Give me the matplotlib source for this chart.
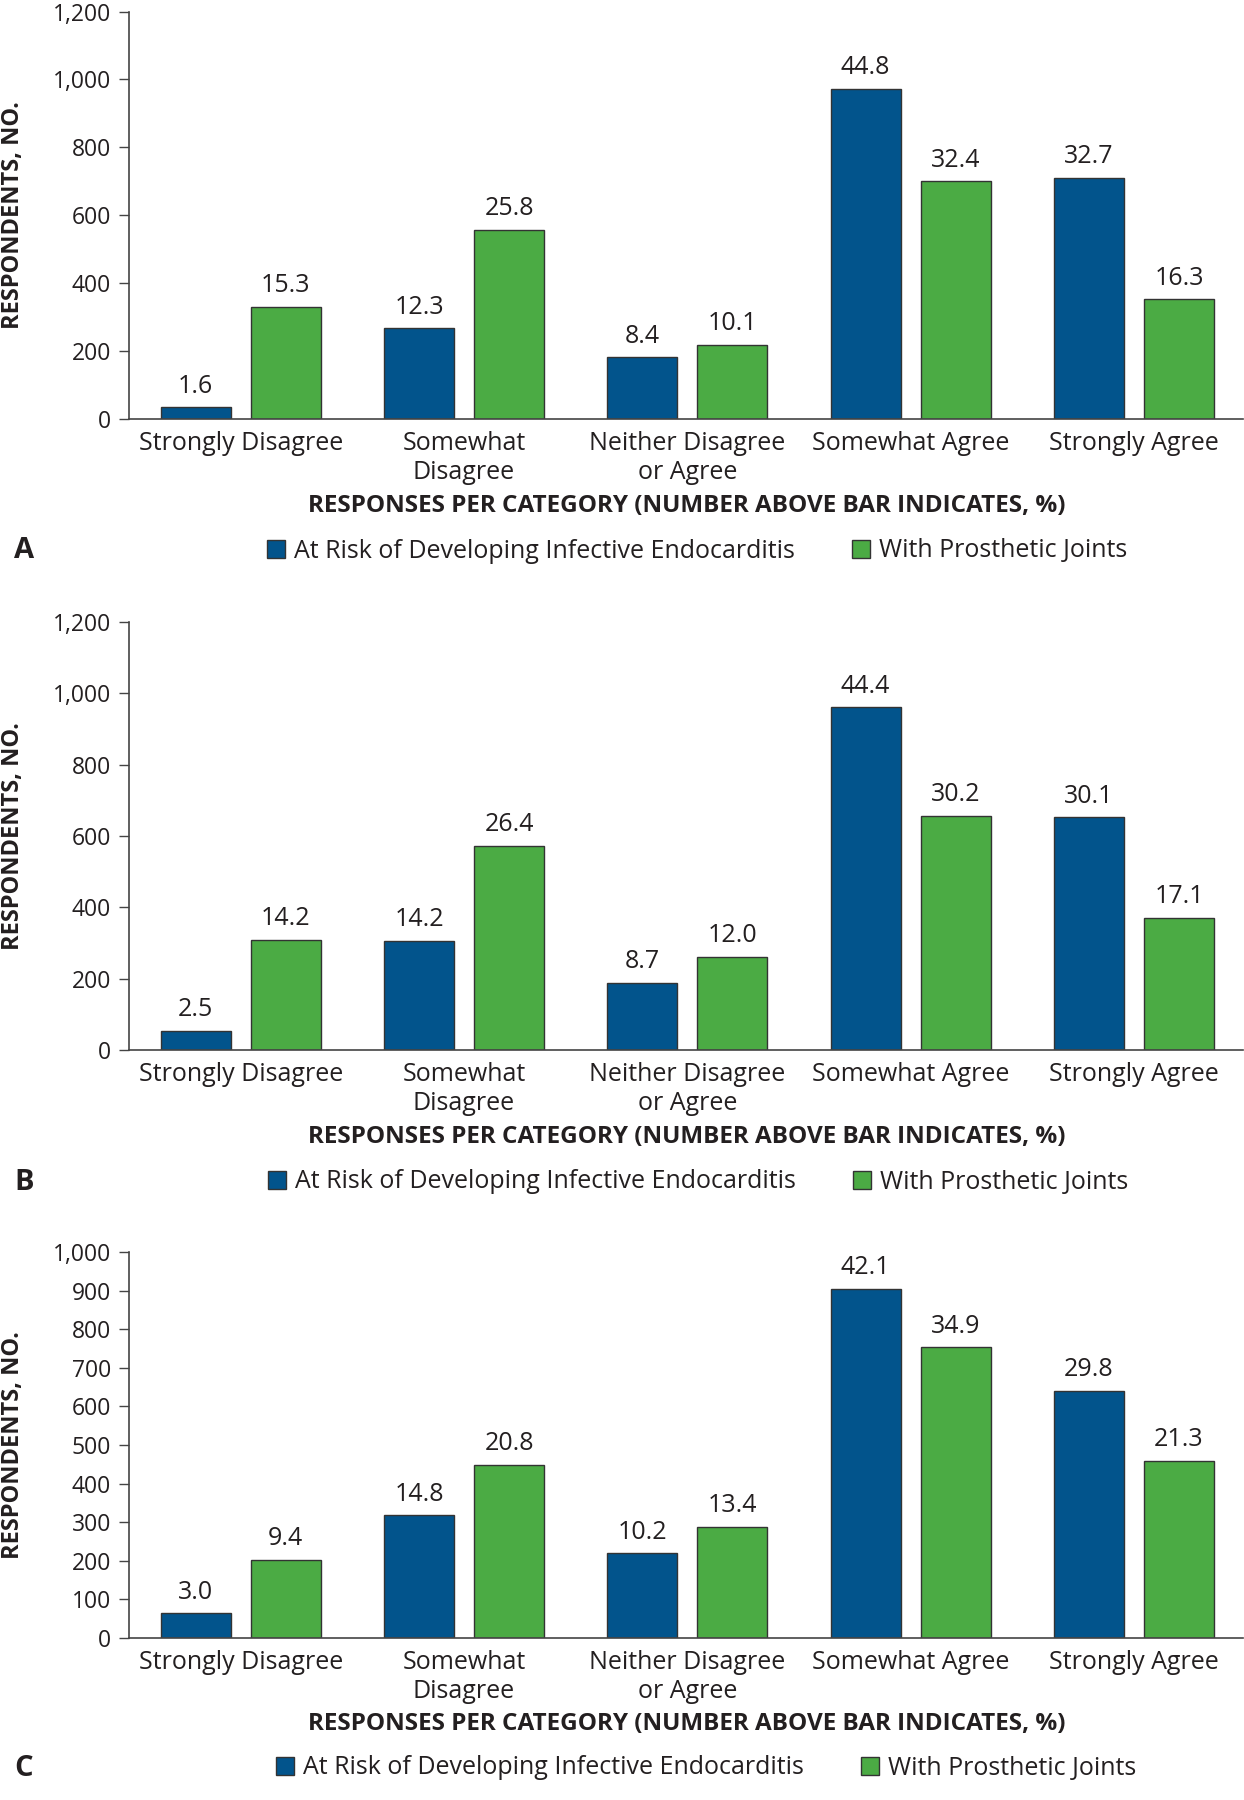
import matplotlib.pyplot as plt
import numpy as np
from matplotlib.patches import Patch
from matplotlib.ticker import FuncFormatter

plt.switch_backend("agg")
plt.rcParams["font.family"] = ["Open Sans", "DejaVu Sans"]

categories = ["Strongly Disagree", "Somewhat\nDisagree", "Neither Disagree\nor Agree",
              "Somewhat Agree", "Strongly Agree"]
series_names = ["At Risk of Developing Infective Endocarditis", "With Prosthetic Joints"]

# panel A
counts_endo_a = [35, 267, 182, 973, 710]
counts_joint_a = [331, 557, 218, 700, 352]
pct_endo_a = ["1.6", "12.3", "8.4", "44.8", "32.7"]
pct_joint_a = ["15.3", "25.8", "10.1", "32.4", "16.3"]

# panel B
counts_endo_b = [54, 307, 188, 961, 652]
counts_joint_b = [309, 573, 261, 656, 371]
pct_endo_b = ["2.5", "14.2", "8.7", "44.4", "30.1"]
pct_joint_b = ["14.2", "26.4", "12.0", "30.2", "17.1"]

# panel C
counts_endo_c = [64, 318, 219, 905, 641]
counts_joint_c = [202, 449, 288, 753, 459]
pct_endo_c = ["3.0", "14.8", "10.2", "42.1", "29.8"]
pct_joint_c = ["9.4", "20.8", "13.4", "34.9", "21.3"]

yticks_ab = [0, 200, 400, 600, 800, 1000, 1200]
yticks_c = [0, 100, 200, 300, 400, 500, 600, 700, 800, 900, 1000]

BLUE = "#02548c"
GREEN = "#4bab44"
EDGE = "#333333"
TXT = "#231f20"
W, H = 1244, 1800
AX_LEFT, AX_RIGHT = 129, 1243


def px_axes(fig, top, bottom):
    return fig.add_axes([AX_LEFT / W, 1 - bottom / H,
                         (AX_RIGHT - AX_LEFT) / W, (bottom - top) / H])


def draw_panel(fig, ax, endo, joint, pct_endo, pct_joint, yticks, letter,
               xlabel_y, legend_y, legend_x):
    x = np.arange(len(categories))
    bw, off = 0.313, 0.2015
    b1 = ax.bar(x - off, endo, bw, color=BLUE, edgecolor=EDGE, linewidth=1.0, zorder=2)
    b2 = ax.bar(x + off, joint, bw, color=GREEN, edgecolor=EDGE, linewidth=1.0, zorder=2)
    for bars, labels in ((b1, pct_endo), (b2, pct_joint)):
        for rect, lab in zip(bars, labels):
            ax.annotate(lab, (rect.get_x() + rect.get_width() / 2, rect.get_height()),
                        xytext=(0, 10.5), textcoords="offset points",
                        ha="center", va="baseline", fontsize=18, color=TXT)

    ax.set_xlim(-0.5, 4.488)
    ax.set_ylim(0, yticks[-1])
    ax.set_yticks(yticks)
    ax.yaxis.set_major_formatter(FuncFormatter(lambda v, p: f"{int(v):,}"))
    ax.set_xticks(x)
    ax.set_xticklabels(categories, linespacing=1.23)
    ax.tick_params(axis="x", length=0, pad=8.5, labelsize=18, labelcolor=TXT)
    ax.tick_params(axis="y", length=7, width=1, pad=6, labelsize=16.5,
                   labelcolor=TXT, color="#444444")
    for s in ("top", "right"):
        ax.spines[s].set_visible(False)
    for s in ("left", "bottom"):
        ax.spines[s].set_color("#444444")
        ax.spines[s].set_linewidth(1.2)

    ax.set_ylabel("RESPONDENTS, NO.", fontsize=17, fontweight="bold", color=TXT)
    ax.yaxis.set_label_coords((25 - AX_LEFT) / (AX_RIGHT - AX_LEFT), 0.5)

    fig.text(687 / W, 1 - xlabel_y / H,
             "RESPONSES PER CATEGORY (NUMBER ABOVE BAR INDICATES, %)",
             ha="center", va="center", fontsize=17.5, fontweight="bold", color=TXT)
    fig.text(24 / W, 1 - legend_y / H, letter, ha="center", va="center",
             fontsize=21, fontweight="bold", color=TXT)

    handles = [Patch(facecolor=BLUE, edgecolor=EDGE, linewidth=1.0),
               Patch(facecolor=GREEN, edgecolor=EDGE, linewidth=1.0)]
    fig.legend(handles, series_names, loc="center", ncol=2, frameon=False,
               bbox_to_anchor=(legend_x / W, 1 - legend_y / H),
               fontsize=18, handlelength=0.7, handleheight=0.7,
               handletextpad=0.36, columnspacing=2.3, labelcolor=TXT)


fig = plt.figure(figsize=(W / 100, H / 100), dpi=100)

ax_a = px_axes(fig, 11.5, 419)
draw_panel(fig, ax_a, counts_endo_a, counts_joint_a, pct_endo_a, pct_joint_a,
           yticks_ab, "A", 506, 551, 697)

ax_b = px_axes(fig, 622, 1050)
draw_panel(fig, ax_b, counts_endo_b, counts_joint_b, pct_endo_b, pct_joint_b,
           yticks_ab, "B", 1137, 1182, 698)

ax_c = px_axes(fig, 1252, 1638)
draw_panel(fig, ax_c, counts_endo_c, counts_joint_c, pct_endo_c, pct_joint_c,
           yticks_c, "C", 1724, 1768, 706)

fig.savefig("out.png", dpi=100, facecolor="white")
plt.close(fig)
